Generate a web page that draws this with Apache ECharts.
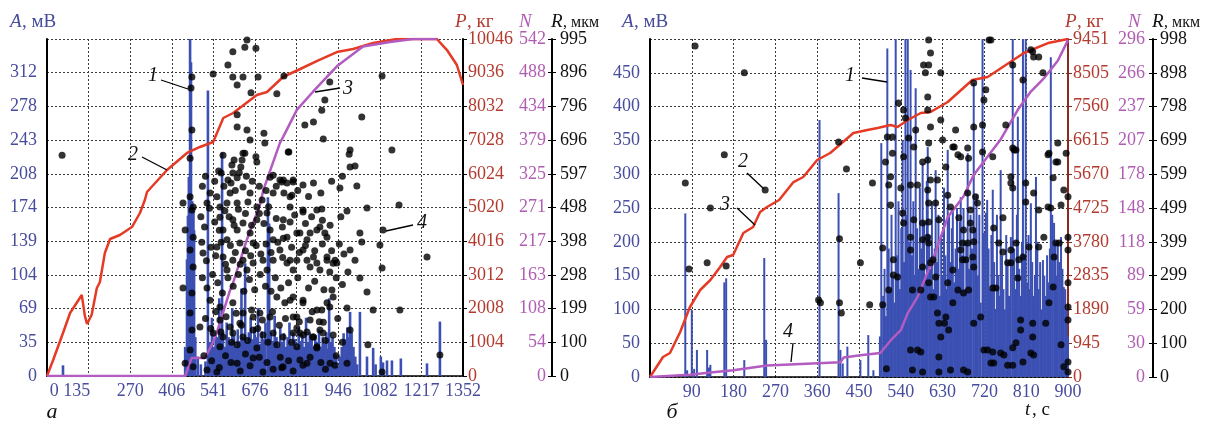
<!DOCTYPE html>
<html><head><meta charset="utf-8">
<script src="https://cdn.jsdelivr.net/npm/echarts/dist/echarts.min.js"></script>
<style>html,body{margin:0;padding:0;background:#fff}#c{width:1214px;height:427px}</style>
</head><body><div id="c"></div>
<script>
// ---------- tick labels ----------
const xLabelsA = ['0','135','270','406','541','676','811','946','1082','1217','1352'];
const xLabelsB = ['','90','180','270','360','450','540','630','720','810','900'];
const aLabelsA = ['0','35','69','104','139','174','208','243','278','312',''];
const pLabelsA = ['0','1004','2008','3012','4016','5020','6024','7028','8032','9036','10046'];
const nLabelsA = ['0','54','108','163','217','271','325','379','434','488','542'];
const rLabelsA = ['0','100','199','298','398','498','597','696','796','896','995'];
const aLabelsB = ['0','50','100','150','200','250','300','350','400','450',''];
const pLabelsB = ['0','945','1890','2835','3780','4725','5670','6615','7560','8505','9451'];
const nLabelsB = ['0','30','59','89','118','148','178','207','237','266','296'];
const rLabelsB = ['0','100','200','299','399','499','599','699','798','898','998'];

// ---------- panel а : [t, value] ----------
const barsA = [[52,11],[449,30],[455,120],[458,165],[461,205],[465,360],[468,323],[470,175],[472,180],[476,170],[478,150],[482,40],[490,20],[500,12],[515,15],[523,294],[528,20],
[530,35],[536,60],[542,30],[548,45],[554,40],[560,80],[566,38],[569,230],[572,45],[578,30],[584,55],[590,40],[596,35],[602,70],[608,42],[614,30],[620,48],[626,36],[632,90],[638,40],[644,116],[650,35],[656,45],[662,60],[668,38],[674,50],[680,40],[686,70],[692,33],[698,46],[704,38],[710,55],[718,184],[722,157],[728,45],[734,36],[740,62],[746,40],[752,30],[758,50],[764,35],[770,44],[776,30],[782,40],[788,55],[794,32],[800,45],[806,38],[812,30],[818,50],[824,36],[830,42],[836,30],[842,60],[848,35],[854,45],[860,38],[866,30],[872,42],[878,35],[884,48],[890,30],[896,40],[902,33],[908,45],[914,28],[917,80],[922,35],[928,40],[934,30],[940,22],[946,10],[952,20],[958,30],[964,44],[970,38],[976,50],[982,40],[985,66],[990,45],[996,30],[1002,20],[1008,12],[1017,66],[1040,20],[1060,29],[1068,12],[1085,20],[1092,14],[1105,16],[1121,16],[1150,18],[1235,13],[1277,56]];
const loadA = [[0,0],[20,477],[52,1282],[75,1878],[113,2415],[123,1800],[130,1550],[145,1818],[162,2623],[172,2802],[188,3667],[205,4084],[237,4203],[276,4441],[302,4859],[318,5246],[325,5485],[390,6141],[455,6648],[497,6827],[540,6976],[573,7691],[605,7840],[682,8377],[715,8466],[767,8913],[816,9122],[880,9400],[942,9658],[995,9748],[1060,9927],[1137,10046],[1267,10046],[1300,9717],[1332,9271],[1352,8675]];
const countA = [[0,0],[449,0],[470,29],[514,29],[540,55],[552,70],[595,138],[605,150],[650,220],[692,275],[703,299],[757,375],[768,385],[812,428],[866,458],[942,498],[1027,530],[1115,537],[1190,542],[1267,542]];
const radiusA = [[49,652],[471,883],[468,850],[471,726],[465,643],[442,511],[475,499],[540,892],[604,957],[588,918],[650,992],[643,971],[679,968],[604,883],[618,859],[637,883],[686,883],[663,836],[618,771],[618,735],[650,726],[705,717],[708,688],[637,658],[679,647],[608,638],[630,617],[572,652],[566,599],[618,585],[747,833],[770,886],[786,661],[763,573],[735,593],[800,573],
[1089,886],[919,868],[903,815],[893,785],[1023,765],[838,741],[866,750],[898,700],[784,661],[985,667],[982,655],[1121,667],[985,617],[1001,620],[768,579],[800,579],[832,564],[866,570],[952,555],[1007,561],[796,534],[790,499],[893,493],[975,487],[1040,496],[1144,505],
[1092,431],[1082,387],[1235,351],[1089,319],[1017,422],[1023,396],[985,372],[1001,342],[978,307],[1017,289],[1040,248],[1147,195],[1060,195],[975,201],[1043,92],[985,136],[1089,12],[1277,62],[930,233],[919,204],[926,254],[893,195],[898,159],[930,121],[887,136],[866,115],[822,127],[800,174],[832,224],[790,224],[812,142],[845,38],[822,47],[936,32],[975,38],[877,86],[763,24],
[832,484],[768,461],[822,422],[887,440],[903,422],[855,422],[768,407],[832,372],[866,351],[790,342],[800,313],[910,342],[930,333],[887,313],[855,322],[919,307],[936,342],
[465,529],[471,490],[449,431],[475,410],[465,372],[442,260],[471,245],[475,322],[465,186],[471,136],[449,38],[465,77],[497,145],[475,27],
[660,697],[643,658],[601,623],[634,638],[682,632],[604,599],[588,579],[595,540],[637,558],[660,540],[530,540],[520,511],[552,529],[562,499],[585,511],[618,511],[653,514],[682,499],[699,520],[725,587],[757,579],[780,570],[832,490],[877,490],[790,529],[735,540],[715,481],
[562,469],[604,461],[637,452],[682,461],[572,431],[618,431],[660,422],[585,402],[627,393],[670,393],[725,431],[735,402],[757,372],[780,410],[812,422],[845,402],[877,431],[910,410],[507,363],[552,381],
[572,351],[604,342],[637,342],[670,334],[702,342],[735,342],[780,334],[812,342],[845,342],[877,334],[910,351],[942,334],[585,313],[650,313],[715,313],
[530,224],[562,204],[604,216],[637,186],[562,165],[595,145],[627,156],[670,174],[747,233],[773,216],[800,233],[832,216],[877,195],[910,216],[725,174],[812,174],[855,165],[692,186],
[540,127],[572,115],[604,127],[637,115],[670,136],[702,121],[735,127],[767,115],[800,127],[832,121],[864,115],[897,127],[562,86],[618,92],[682,83],[747,92],[812,86],[877,83],
[520,18],[552,12],[618,38],[702,12],[767,27],[832,32],[920,38],[670,53],
[505,560],[515,590],[545,575],[558,605],[575,560],[598,570],[612,548],[625,600],[648,590],[667,575],[690,560],[712,548],[745,560],[770,540],[815,548],[850,530],[890,540],[925,575],[960,590],
[500,470],[512,440],[528,495],[545,455],[560,430],[578,488],[592,470],[608,445],[622,492],[645,480],[665,445],[690,480],[705,450],[720,500],[745,465],[765,440],[790,455],[805,475],[840,450],[860,470],[895,460],[920,445],[955,470],
[503,395],[518,340],[533,380],[548,355],[566,395],[580,330],[596,385],[612,365],[628,330],[645,370],[662,355],[680,385],[695,360],[712,390],[728,365],[750,395],[766,350],[795,380],[820,365],[840,385],[870,370],[895,390],[925,370],[950,390],[965,360],
[505,290],[520,260],[538,300],[555,275],[570,245],[588,290],[605,265],[622,300],[640,250],[658,285],[675,255],[693,300],[710,265],[728,250],[742,290],[760,260],[785,275],[815,290],[850,260],[870,280],[900,255],[940,290],[960,270],
[515,170],[532,140],[548,190],[565,130],[582,175],[600,100],[615,185],[632,150],[652,105],[665,195],[685,140],[700,165],[718,100],[733,190],[755,150],[775,170],[795,100],[820,160],[845,130],[862,190],[885,160],[905,105],[945,170],[960,100],
[510,60],[535,45],[560,25],[580,60],[598,40],[628,15],[645,65],[660,30],[690,55],[715,40],[735,20],[758,55],[785,45],[800,15],[855,55],[890,40],[905,20],[940,60]];

// ---------- panel б : [t, value] ----------
const barsB = [[76,242],[80,10],[90,99],[95,12],[101,40],[123,40],[127,14],[130,18],[160,140],[164,146],[203,25],[246,176],[250,55],[365,380],[406,272],[410,40],[415,20],[425,45],[453,25],[470,62],[481,10],
[495,60],[498,346],[502,120],[505,160],[508,90],[511,486],[514,190],[517,130],[520,240],[523,150],[526,110],[529,520],[532,180],[535,260],[538,130],[541,220],[544,350],[547,170],[550,520],[553,240],[555,520],[558,200],[561,454],[564,180],[567,260],[570,150],[572,427],[575,220],[578,160],[581,280],[584,190],[587,316],[590,230],[593,150],[596,290],[598,340],[601,210],[604,160],[607,260],[610,130],[613,190],[615,306],[618,170],[621,240],[624,120],[627,210],[630,150],[633,280],[636,180],[639,130],[641,336],[644,240],[647,170],[650,220],[652,247],[655,140],[658,190],[661,250],[664,160],[667,230],[669,266],[672,180],[675,250],[678,130],[681,200],[684,331],[687,160],[690,240],[693,190],[697,435],[700,220],[703,270],[706,150],[709,240],[712,110],[716,520],[719,213],[723,243],[726,262],[729,190],[732,130],[735,210],[738,277],[741,170],[744,100],[747,240],[750,150],[753,120],[755,306],[758,180],[761,130],[764,100],[767,210],[770,170],[773,120],[777,207],[781,520],[784,190],[787,130],[790,240],[792,385],[795,160],[798,120],[801,200],[803,520],[806,180],[809,520],[812,140],[815,210],[818,130],[820,257],[823,170],[826,120],[829,150],[831,296],[834,200],[837,130],[840,170],[843,100],[846,173],[849,150],[852,120],[855,180],[858,140],[861,190],[863,473],[866,240],[870,228],[873,200],[876,150],[878,198],[881,170],[885,207],[888,160],[891,133],[894,130],[897,100],[900,60]];
const loadB = [[0,0],[28,559],[43,671],[65,1258],[86,1957],[108,2433],[130,2712],[151,3076],[166,3355],[179,3411],[201,4026],[222,4194],[237,4613],[252,4753],[278,4949],[309,5452],[330,5592],[360,6067],[388,6263],[438,6822],[468,6906],[490,6962],[518,7046],[533,6990],[555,7186],[583,7382],[604,7409],[641,7689],[694,8304],[727,8388],[805,9059],[857,9338],[900,9451]];
const countB = [[0,0],[86,2],[130,4],[179,6],[252,10],[410,13],[417,17],[453,19],[496,21],[518,32],[540,41],[555,56],[576,70],[611,105],[641,140],[675,158],[697,177],[727,193],[755,208],[792,234],[820,250],[849,262],[878,277],[900,295]];
const radiusB = [[97,977],[203,898],[160,656],[76,573],[130,499],[248,552],[406,694],[423,614],[479,573],[84,319],[123,337],[164,328],[363,227],[367,219],[408,408],[408,219],[412,189],[453,337],[473,213],[501,213],[501,381],[509,24],
[507,635],[511,709],[514,567],[518,508],[522,709],[522,661],[518,591],[524,346],[524,301],[514,257],[533,295],[535,809],[540,558],[546,650],[544,484],[546,455],[546,788],[550,765],[557,706],[561,567],[561,413],[561,375],[568,464],[568,679],[572,729],[576,567],[565,257],[561,80],[576,80],[583,74],[565,21],[587,15],[583,257],[587,455],[587,405],[587,325],[587,635],[589,921],[593,898],[598,827],[600,921],[600,995],[604,957],[598,788],[604,738],[600,691],[598,641],[604,582],[598,552],[600,514],[600,458],[598,413],[600,396],[604,337],[600,278],[604,236],[611,236],[615,295],[609,346],[615,514],[619,582],[622,464],[626,898],[626,759],[630,700],[619,189],[622,159],[626,118],[622,15],[637,620],[641,537],[647,502],[652,679],[658,729],[655,679],[663,656],[669,650],[673,396],[665,470],[675,434],[669,375],[673,346],[652,316],[641,278],[663,257],[652,219],[637,177],[643,139],[634,159],[622,59],[647,21],[684,15],[680,346],[686,257],
[734,995],[723,848],[719,818],[697,868],[697,738],[716,744],[716,664],[738,650],[766,744],[781,921],[803,877],[781,676],[784,670],[777,591],[777,573],[781,558],[809,573],[809,517],[824,960],[826,945],[837,945],[846,898],[859,661],[868,588],[878,691],[878,635],[896,661],[891,552],[900,532],[826,543],[837,493],[863,499],[857,502],[885,508],[848,413],[816,384],[837,384],[874,396],[881,396],[900,413],[900,375],[870,354],[868,266],[859,219],[900,278],[900,207],[900,168],[885,95],[852,159],[824,159],[824,118],[820,71],[826,65],[900,44],[900,15],[891,30],
[684,676],[686,646],[684,543],[701,532],[705,514],[690,493],[690,455],[695,434],[697,399],[684,396],[695,354],[697,325],[675,248],[697,159],[712,177],[675,21],[738,263],[745,263],[740,440],[760,470],[751,396],[760,369],[770,337],[777,375],[788,396],[794,346],[803,354],[792,292],[777,337],[719,80],[727,80],[738,74],[755,71],[762,65],[781,86],[788,101],[798,139],[798,168],[740,41],[734,41],[770,35],[781,35],[803,44],
[730,995],[820,966],[788,670],[857,656],[874,635]];

// ---------- styling ----------
const FONT = 'Liberation Serif';
const BLUE = '#474c9c', BROWN = '#b23a2e', PURPLE = '#b05db3', BAR = '#3b50b2', RED = '#e53a26', LINE_P = '#b25bc0';
const dotted = {type:[2,2], color:'#3a3a3a', width:1};

function lab(arr, color, extra) {
  return Object.assign({color: color, fontFamily: FONT, fontSize: 18, showMinLabel: true, showMaxLabel: true,
    formatter: (v, i) => arr[i] === undefined ? '' : arr[i]}, extra || {});
}
function yAx(grid, max, labels, color, o) {
  return Object.assign({
    type: 'value', gridIndex: grid, min: 0, max: max, interval: +(max / 10).toFixed(2),
    axisLine: {show: false}, axisTick: {show: false}, splitLine: {show: false},
    axisLabel: lab(labels, color)
  }, o);
}

const chart = echarts.init(document.getElementById('c'));
const option = {
  animation: false,
  backgroundColor: '#fff',
  grid: [
    {left: 47, top: 39, width: 416, height: 337},
    {left: 650, top: 39, width: 418, height: 338}
  ],
  xAxis: [
    {type: 'value', gridIndex: 0, min: 0, max: 1352, interval: 135.2,
     axisLine: {lineStyle: {color: '#000', width: 1.5}}, axisTick: {show: false},
     splitLine: {show: true, lineStyle: dotted},
     // the first two labels are drawn squeezed together in the original, see graphic below
     axisLabel: lab(xLabelsA.map((s, i) => i < 2 ? '' : s), BLUE, {margin: 6})},
    {type: 'value', gridIndex: 1, min: 0, max: 900, interval: 90,
     axisLine: {lineStyle: {color: '#000', width: 1.5}}, axisTick: {show: false},
     splitLine: {show: true, lineStyle: dotted},
     axisLabel: lab(xLabelsB, BLUE, {margin: 6})}
  ],
  yAxis: [
    yAx(0, 346.9, aLabelsA, BLUE, {position: 'left', axisLine: {show: true, lineStyle: {color: '#000', width: 2}},
      splitLine: {show: true, lineStyle: dotted}, axisLabel: lab(aLabelsA, BLUE, {margin: 10})}),
    yAx(0, 10046, pLabelsA, BROWN, {position: 'right', offset: 0, axisLine: {show: true, lineStyle: {color: '#000', width: 2}},
      axisTick: {show: true, length: 4, lineStyle: {color: '#000'}}, axisLabel: lab(pLabelsA, BROWN, {margin: 5})}),
    yAx(0, 542, nLabelsA, PURPLE, {position: 'right', offset: 89, axisTick: {show: true, inside: true, length: 4, lineStyle: {color: '#000'}},
      axisLine: {show: false}, axisLabel: lab(nLabelsA, PURPLE, {inside: true, margin: 6})}),
    yAx(0, 995, rLabelsA, '#111', {position: 'right', offset: 89, axisLine: {show: true, lineStyle: {color: '#000', width: 2}},
      axisTick: {show: true, length: 4, lineStyle: {color: '#000'}}, axisLabel: lab(rLabelsA, '#111', {margin: 8})}),
    yAx(1, 500, aLabelsB, BLUE, {position: 'left', axisLine: {show: true, lineStyle: {color: '#000', width: 2}},
      splitLine: {show: true, lineStyle: dotted}, axisLabel: lab(aLabelsB, BLUE, {margin: 10})}),
    yAx(1, 9451, pLabelsB, BROWN, {position: 'right', offset: 0, axisLine: {show: true, lineStyle: {color: '#8c2a22', width: 2}},
      axisTick: {show: true, length: 4, lineStyle: {color: '#8c2a22'}}, axisLabel: lab(pLabelsB, BROWN, {margin: 5})}),
    yAx(1, 296, nLabelsB, PURPLE, {position: 'right', offset: 85, axisTick: {show: true, inside: true, length: 4, lineStyle: {color: '#000'}},
      axisLine: {show: false}, axisLabel: lab(nLabelsB, PURPLE, {inside: true, margin: 8})}),
    yAx(1, 998, rLabelsB, '#111', {position: 'right', offset: 85, axisLine: {show: true, lineStyle: {color: '#000', width: 2}},
      axisTick: {show: true, length: 4, lineStyle: {color: '#000'}}, axisLabel: lab(rLabelsB, '#111', {margin: 7})})
  ],
  series: [
    {type: 'bar', xAxisIndex: 0, yAxisIndex: 0, data: barsA, barWidth: 2.6, itemStyle: {color: BAR}, clip: true, z: 2},
    {type: 'line', xAxisIndex: 0, yAxisIndex: 1, data: loadA, showSymbol: false, lineStyle: {color: RED, width: 2.5}, z: 3},
    {type: 'line', xAxisIndex: 0, yAxisIndex: 2, data: countA, showSymbol: false, lineStyle: {color: LINE_P, width: 2.5}, z: 3},
    {type: 'scatter', xAxisIndex: 0, yAxisIndex: 3, data: radiusA, symbolSize: 7, itemStyle: {color: '#000'}, z: 4},
    {type: 'bar', xAxisIndex: 1, yAxisIndex: 4, data: barsB, barWidth: 2, itemStyle: {color: BAR}, clip: true, z: 2},
    {type: 'line', xAxisIndex: 1, yAxisIndex: 5, data: loadB, showSymbol: false, lineStyle: {color: RED, width: 2.5}, z: 3},
    {type: 'line', xAxisIndex: 1, yAxisIndex: 6, data: countB, showSymbol: false, lineStyle: {color: LINE_P, width: 2.5}, z: 3},
    {type: 'scatter', xAxisIndex: 1, yAxisIndex: 7, data: radiusB, symbolSize: 7, itemStyle: {color: '#000'}, z: 4}
  ],
  graphic: []
};

function txt(x, y, text, font, fill, align) {
  return {type: 'text', x: x, y: y, z: 100, style: {text: text, font: font, fill: fill,
    align: align || 'left', verticalAlign: 'middle', textAlign: align || 'left', textVerticalAlign: 'middle'}};
}
function ln(x1, y1, x2, y2) {
  return {type: 'line', z: 100, shape: {x1: x1, y1: y1, x2: x2, y2: y2}, style: {stroke: '#000', lineWidth: 1.3}};
}
const g = option.graphic;
const IT = 'italic 19px ' + FONT, NR = '19px ' + FONT, SM = '16px ' + FONT;
g.push(txt(70, 391, xLabelsA[0] + ' ' + xLabelsA[1], '18px ' + FONT, BLUE, 'center'));
g.push(txt(10, 22, 'A', IT, BLUE), txt(22, 22, ', мВ', NR, BLUE));
g.push(txt(455, 22, 'P', IT, BROWN), txt(467, 22, ', кг', NR, BROWN));
g.push(txt(519, 22, 'N', IT, PURPLE));
g.push(txt(551, 22, 'R', IT, '#111'), txt(563, 23, ', мкм', SM, '#111'));
g.push(txt(622, 22, 'A', IT, BLUE), txt(634, 22, ', мВ', NR, BLUE));
g.push(txt(1065, 22, 'P', IT, BROWN), txt(1077, 22, ', кг', NR, BROWN));
g.push(txt(1128, 22, 'N', IT, PURPLE));
g.push(txt(1152, 22, 'R', IT, '#111'), txt(1164, 23, ', мкм', SM, '#111'));
g.push(txt(52, 412, 'а', 'italic 22px ' + FONT, '#111', 'center'));
g.push(txt(672, 412, 'б', 'italic 22px ' + FONT, '#111', 'center'));
g.push(txt(1025, 410, 't', IT, '#111'), txt(1032, 410, ', с', NR, '#111'));
g.push(txt(153, 76, '1', 'italic 20px ' + FONT, '#111', 'center'), ln(161, 80, 188, 89));
g.push(txt(133, 155, '2', 'italic 20px ' + FONT, '#111', 'center'), ln(142, 157, 167, 170));
g.push(txt(348, 89, '3', 'italic 20px ' + FONT, '#111', 'center'), ln(315, 92, 340, 88));
g.push(txt(422, 223, '4', 'italic 20px ' + FONT, '#111', 'center'), ln(386, 231, 413, 225));
g.push(txt(850, 76, '1', 'italic 20px ' + FONT, '#111', 'center'), ln(862, 78, 887, 82));
g.push(txt(743, 162, '2', 'italic 20px ' + FONT, '#111', 'center'), ln(747, 173, 764, 189));
g.push(txt(725, 205, '3', 'italic 20px ' + FONT, '#111', 'center'), ln(737, 208, 755, 225));
g.push(txt(788, 332, '4', 'italic 20px ' + FONT, '#111', 'center'), ln(793, 343, 791, 362));

chart.setOption(option);
</script></body></html>
